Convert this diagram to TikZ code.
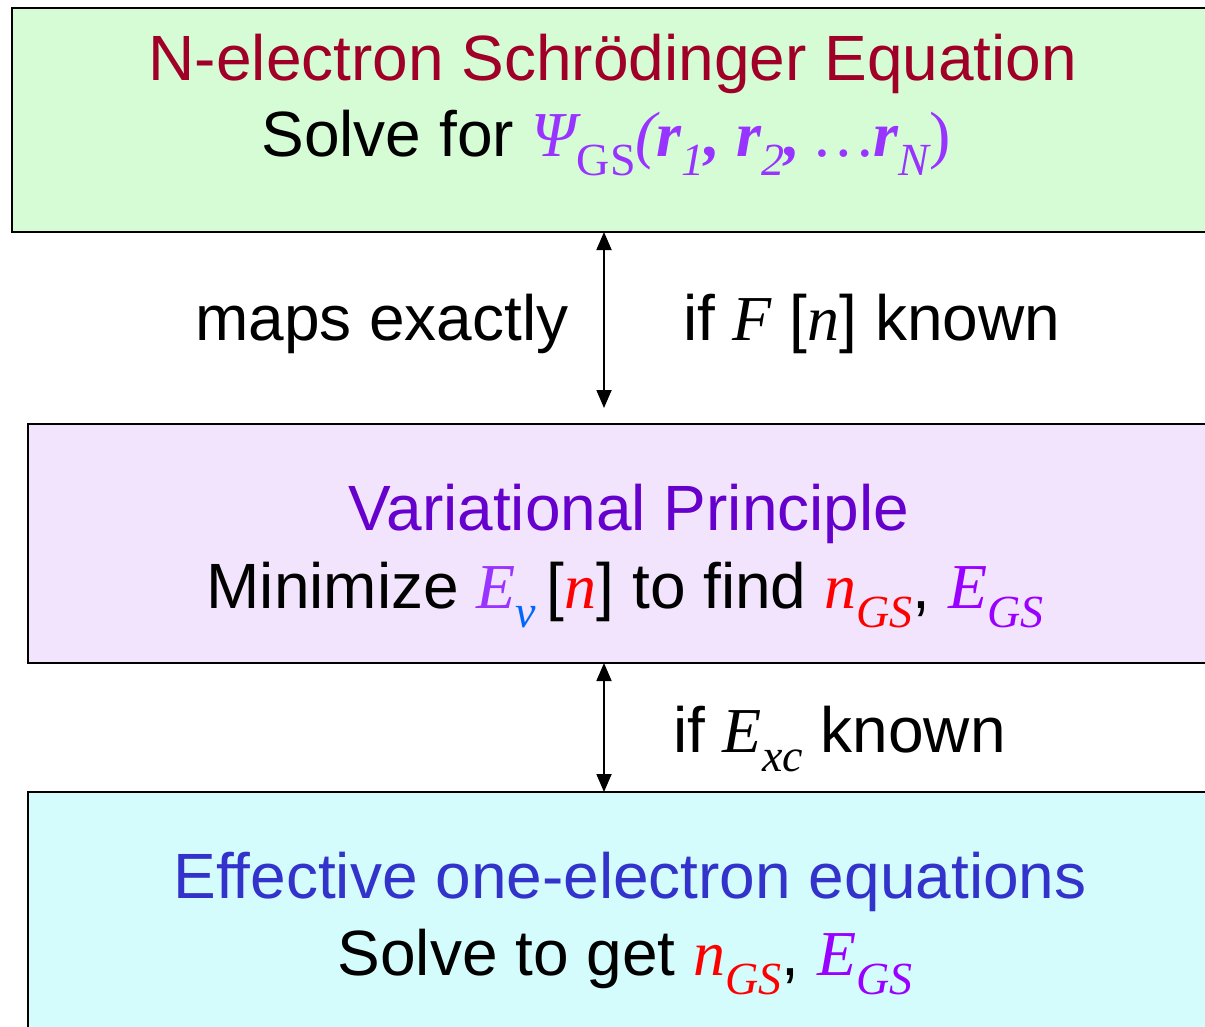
\documentclass[tikz,border=0pt]{standalone}
\usepackage{fontspec}
\setmainfont{Liberation Sans}
\newfontfamily\tms{Liberation Serif}
\definecolor{gfill}{RGB}{213,252,213}
\definecolor{pfill}{RGB}{242,228,252}
\definecolor{cfill}{RGB}{212,252,252}
\definecolor{dred}{RGB}{160,0,40}
\definecolor{vpurp}{RGB}{102,0,204}
\definecolor{eblue}{RGB}{51,51,204}
\definecolor{psi}{RGB}{153,51,255}
\definecolor{egs}{RGB}{153,0,255}
\definecolor{vblue}{RGB}{0,102,255}
\newcommand{\lo}[1]{\raisebox{-0.3em}{\fontsize{46}{46}\selectfont #1}}
\usetikzlibrary{arrows.meta}
\tikzset{
  box/.style={draw=black, line width=1.5pt},
  big/.style={font=\fontsize{64}{76}\selectfont, anchor=base, inner sep=0pt},
  dbl/.style={>={Triangle[length=18pt,width=15pt]}, <->, line width=1.8pt}
}
\begin{document}
\begin{tikzpicture}[x=1pt,y=-1pt]
\useasboundingbox (0,0) rectangle (1205,1026);
\fill[white] (0,0) rectangle (1205,1026);
\begin{scope}
\clip (0,0) rectangle (1205,1026);
\draw[box, fill=gfill] (12,8) rectangle (1230,232);
\draw[box, fill=pfill] (28,424) rectangle (1230,663);
\draw[box, fill=cfill] (28,792) rectangle (1230,1050);
\end{scope}
\coordinate (b1) at (604,232);
\coordinate (b2b) at (604,663);
\coordinate (b3) at (604,792);
\coordinate (a1e) at (604,408);
\node[big, text=dred] (t1) at (613,80) {N-electron Schrödinger Equation};
\node[big] (s1) at (606,156) {Solve for {\color{psi}\tms\itshape Ψ\upshape\lo{GS}\itshape(\bfseries r\mdseries\lo{1}\bfseries, r\mdseries\lo{2}\bfseries, \mdseries…\bfseries r\mdseries\lo{N}\upshape)}};
\node[big, anchor=base west] (m1) at (195,340) {maps exactly};
\node[big, anchor=base west] (m2) at (683,340) {if {\tms\itshape F} [{\tms\itshape n}] known};
\node[big, text=vpurp] (t2) at (629,530) {Variational Principle};
\node[big] (s2) at (625,608) {Minimize {\tms\itshape\color{psi}E\color{vblue}\lo{v}}\,[{\tms\itshape\color{red}n}] to find {\tms\itshape\color{red}n\lo{GS}}, {\tms\itshape\color{egs}E\lo{GS}}};
\node[big, anchor=base west] (m3) at (673,752) {if {\tms\itshape E\lo{xc}} known};
\node[big, text=eblue] (t3) at (630,898) {Effective one-electron equations};
\node[big] (s3) at (625,975) {Solve to get {\tms\itshape\color{red}n\lo{GS}}, {\tms\itshape\color{egs}E\lo{GS}}};
\draw[dbl] (b1) -- (a1e);
\draw[dbl] (b2b) -- (b3);
\end{tikzpicture}
\end{document}
